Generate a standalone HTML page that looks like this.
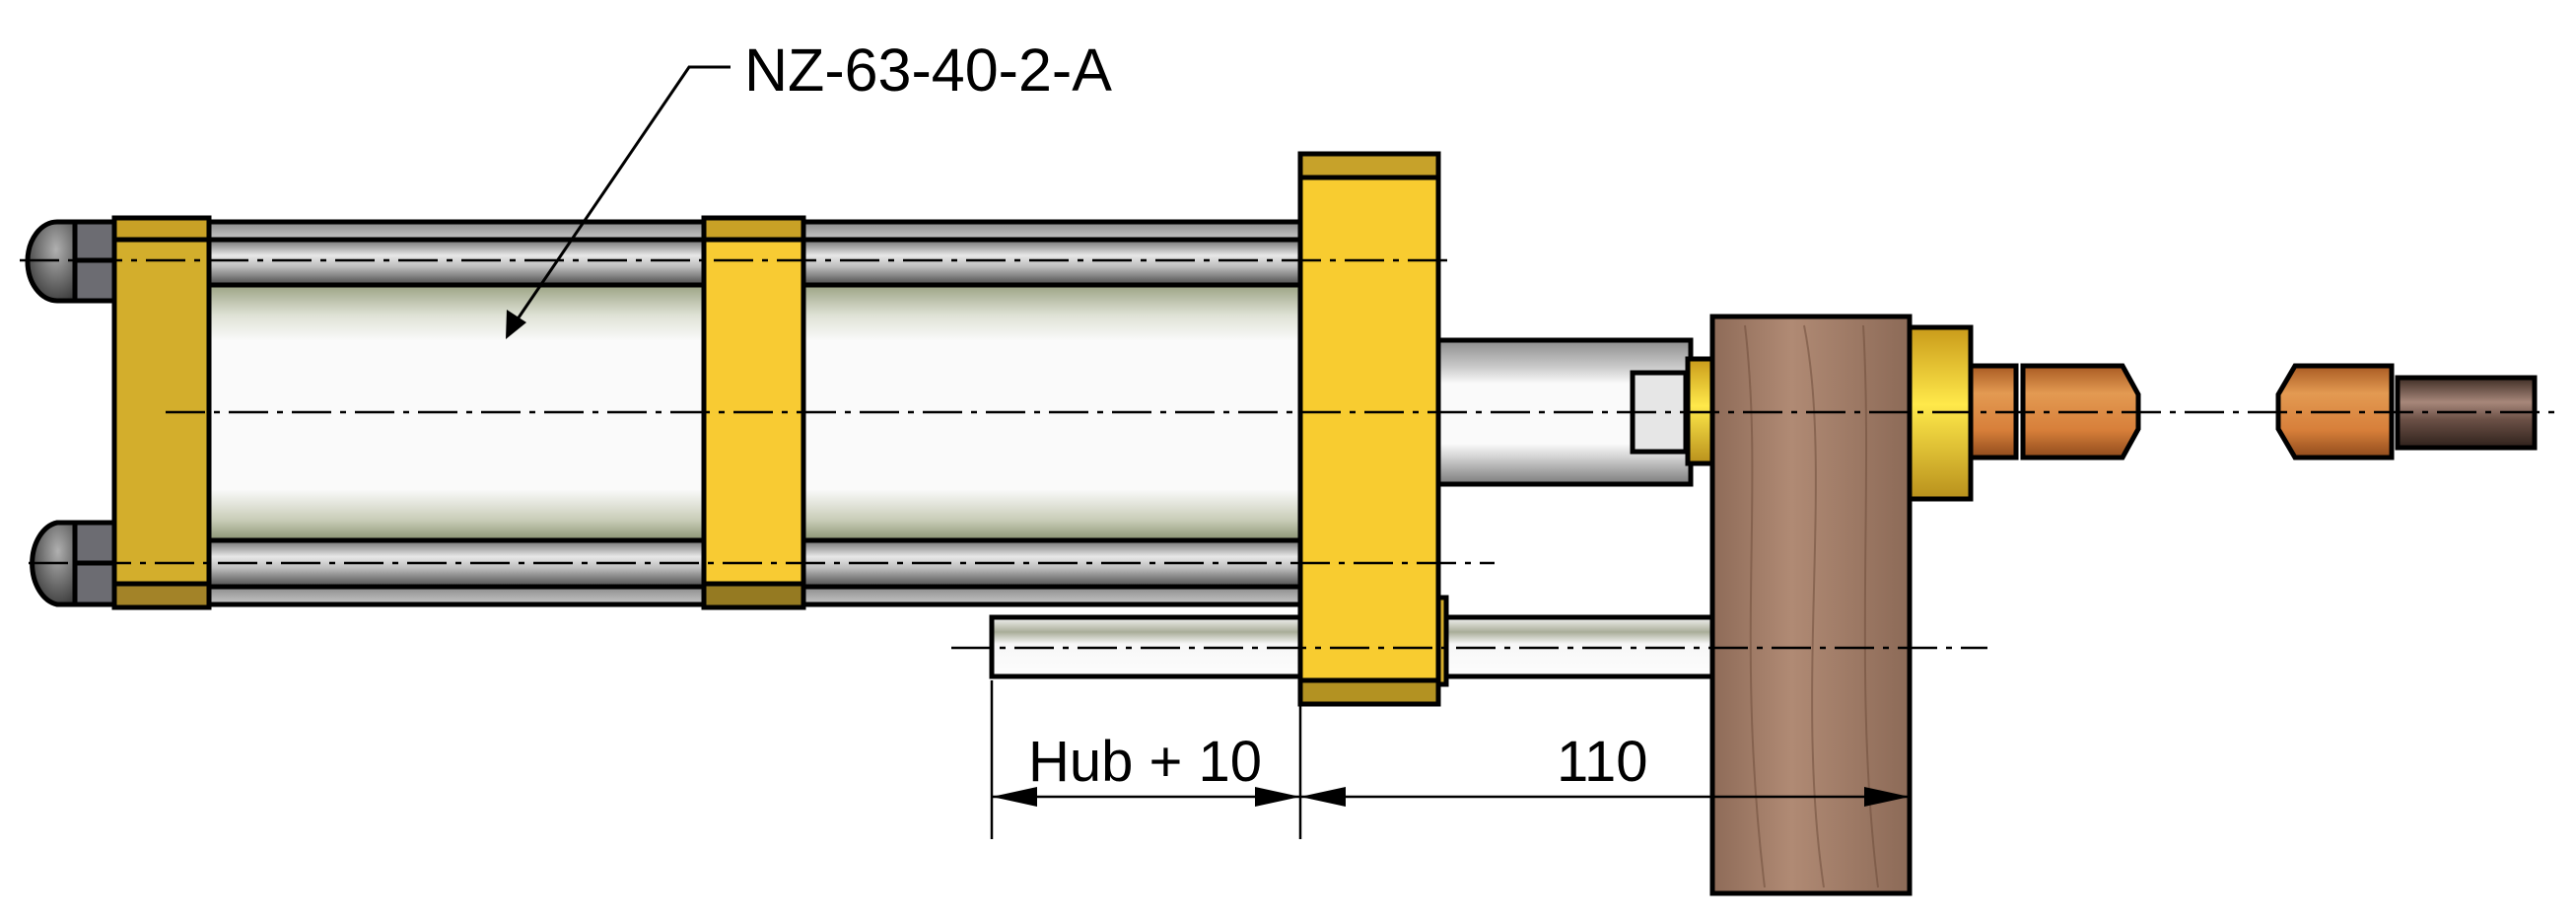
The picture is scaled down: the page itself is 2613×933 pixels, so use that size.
<!DOCTYPE html>
<html><head><meta charset="utf-8"><style>html,body{margin:0;padding:0;background:#fff}svg{display:block}</style></head>
<body>
<svg width="2613" height="933" viewBox="0 0 2613 933" xmlns="http://www.w3.org/2000/svg">
<defs>
<linearGradient id="rod" x1="0" y1="0" x2="0" y2="1">
<stop offset="0" stop-color="#6e6e6e"/><stop offset="0.35" stop-color="#e8e8e8"/><stop offset="0.6" stop-color="#bdbdbd"/><stop offset="1" stop-color="#4a4a4a"/></linearGradient>
<linearGradient id="band" x1="0" y1="0" x2="0" y2="1"><stop offset="0" stop-color="#8a8a8a"/><stop offset="1" stop-color="#c8c8c8"/></linearGradient>
<linearGradient id="tube" x1="0" y1="0" x2="0" y2="1">
<stop offset="0" stop-color="#9ba383"/><stop offset="0.12" stop-color="#dfe2d6"/><stop offset="0.22" stop-color="#fafafa"/><stop offset="0.8" stop-color="#fafafa"/><stop offset="0.92" stop-color="#c9cdb8"/><stop offset="1" stop-color="#8a9372"/></linearGradient>
<linearGradient id="prod" x1="0" y1="0" x2="0" y2="1">
<stop offset="0" stop-color="#8c8c8c"/><stop offset="0.2" stop-color="#cfcfcf"/><stop offset="0.3" stop-color="#fafafa"/><stop offset="0.72" stop-color="#fafafa"/><stop offset="0.82" stop-color="#cfcfcf"/><stop offset="1" stop-color="#7a7a7a"/></linearGradient>
<linearGradient id="guide" x1="0" y1="0" x2="0" y2="1">
<stop offset="0" stop-color="#f5f5f5"/><stop offset="0.25" stop-color="#a9ad98"/><stop offset="0.45" stop-color="#f7f7f7"/><stop offset="1" stop-color="#fdfdfd"/></linearGradient>
<linearGradient id="cu" x1="0" y1="0" x2="0" y2="1">
<stop offset="0" stop-color="#a85a22"/><stop offset="0.3" stop-color="#e39a52"/><stop offset="0.7" stop-color="#d77f3a"/><stop offset="1" stop-color="#8f4b1c"/></linearGradient>
<linearGradient id="dk" x1="0" y1="0" x2="0" y2="1">
<stop offset="0" stop-color="#3d2c24"/><stop offset="0.35" stop-color="#a7877a"/><stop offset="0.6" stop-color="#6b5046"/><stop offset="1" stop-color="#2e211b"/></linearGradient>
<linearGradient id="col" x1="0" y1="0" x2="0" y2="1">
<stop offset="0" stop-color="#c99a1a"/><stop offset="0.45" stop-color="#ffe94a"/><stop offset="1" stop-color="#b8901c"/></linearGradient>
<linearGradient id="wood" x1="0" y1="0" x2="1" y2="0">
<stop offset="0" stop-color="#8e6b58"/><stop offset="0.4" stop-color="#b08a74"/><stop offset="1" stop-color="#8c6a57"/></linearGradient>
<radialGradient id="dome" cx="0.6" cy="0.35" r="0.7"><stop offset="0" stop-color="#b0b0b0"/><stop offset="1" stop-color="#3c3c3c"/></radialGradient>
</defs>

<!-- tube -->
<rect x="212" y="289" width="1107" height="259" fill="url(#tube)"/>
<!-- tie rods -->
<g stroke="#000" stroke-width="5">
<rect x="212" y="225" width="1107" height="18" fill="url(#band)"/>
<rect x="212" y="243" width="1107" height="46" fill="url(#rod)"/>
<rect x="212" y="548" width="1107" height="47" fill="url(#rod)"/>
<rect x="212" y="595" width="1107" height="18" fill="url(#band)"/>
</g>
<!-- domes + nuts -->
<g stroke="#000" stroke-width="5">
<path d="M76 225 L58 225 A30 40 0 0 0 58 305 L76 305 Z" fill="url(#dome)"/>
<path d="M76 530 L58 530 A30 42 0 0 0 58 613 L76 613 Z" fill="url(#dome)"/>
<rect x="76" y="225" width="40" height="80" fill="#6c6c72"/>
<line x1="76" y1="264" x2="116" y2="264"/>
<rect x="76" y="530" width="40" height="83" fill="#6c6c72"/>
<line x1="76" y1="571" x2="116" y2="571"/>
</g>
<!-- left plate -->
<g stroke="#000" stroke-width="5">
<rect x="116" y="221" width="96" height="395" fill="#d3ae2c"/>
<rect x="116" y="221" width="96" height="22" fill="#c9a126"/>
<rect x="116" y="592" width="96" height="24" fill="#a38328"/>
<!-- middle plate -->
<rect x="714" y="221" width="101" height="395" fill="#f8cb33"/>
<rect x="714" y="221" width="101" height="22" fill="#c9a126"/>
<rect x="714" y="592" width="101" height="24" fill="#957a22"/>
</g>
<!-- guide rod -->
<g stroke="#000" stroke-width="5">
<rect x="1006" y="626" width="313" height="60" fill="url(#guide)"/>
<rect x="1459" y="626" width="278" height="60" fill="url(#guide)"/>
<rect x="1459" y="606" width="8" height="88" fill="#d4ac2a"/>
<!-- piston rod -->
<rect x="1459" y="345" width="256" height="146" fill="url(#prod)"/>
<rect x="1656" y="378" width="54" height="80" fill="#e6e6e6"/>
<rect x="1712" y="364" width="26" height="106" fill="url(#col)"/>
<!-- flange -->
<rect x="1319" y="156" width="140" height="558" fill="#f8cc30"/>
<rect x="1319" y="156" width="140" height="24" fill="#c7a22a"/>
<rect x="1319" y="690" width="140" height="24" fill="#b39222"/>
<!-- wood -->
<rect x="1737" y="321" width="200" height="585" fill="url(#wood)"/>
<!-- right collar -->
<rect x="1937" y="332" width="62" height="174" fill="url(#col)"/>
<!-- copper parts -->
<rect x="1999" y="371" width="46" height="93" fill="url(#cu)"/>
<path d="M2052 371 L2153 371 L2169 400 L2169 435 L2153 464 L2052 464 Z" fill="url(#cu)"/>
<path d="M2328 371 L2426 371 L2426 464 L2328 464 L2311 435 L2311 400 Z" fill="url(#cu)"/>
<rect x="2432" y="383" width="139" height="71" fill="url(#dk)"/>
</g>
<g stroke="#6b4a38" stroke-width="2" fill="none" opacity="0.5">
<path d="M1770 330 C1790 500 1760 650 1790 900"/><path d="M1830 330 C1860 480 1820 700 1850 900"/><path d="M1890 330 C1900 500 1880 700 1905 900"/>
</g>

<!-- centerlines -->
<g stroke="#000" stroke-width="2.5" stroke-dasharray="40 9 6 9" fill="none">
<line x1="20" y1="264" x2="1476" y2="264"/>
<line x1="29" y1="571" x2="1516" y2="571"/>
<line x1="168" y1="418" x2="2595" y2="418"/>
<line x1="965" y1="657" x2="2016" y2="657"/>
</g>

<!-- leader -->
<g stroke="#000" stroke-width="3" fill="none">
<polyline points="741,68 699,68 522,328"/>
</g>
<polygon points="513,344 514,314 534,327" fill="#000"/>
<text x="755" y="92" font-family="Liberation Sans, sans-serif" font-size="61" fill="#000">NZ-63-40-2-A</text>

<!-- dimensions -->
<g stroke="#000" stroke-width="2.5">
<line x1="1006" y1="690" x2="1006" y2="851"/>
<line x1="1319" y1="716" x2="1319" y2="851"/>
<line x1="1006" y1="808" x2="1937" y2="808"/>
</g>
<g fill="#000">
<polygon points="1006,808 1052,798 1052,818"/>
<polygon points="1319,808 1273,798 1273,818"/>
<polygon points="1319,808 1365,798 1365,818"/>
<polygon points="1937,808 1891,798 1891,818"/>
</g>
<text x="1043" y="792" font-family="Liberation Sans, sans-serif" font-size="58" fill="#000">Hub + 10</text>
<text x="1579" y="792" font-family="Liberation Sans, sans-serif" font-size="58" fill="#000">110</text>
</svg>
</body></html>
